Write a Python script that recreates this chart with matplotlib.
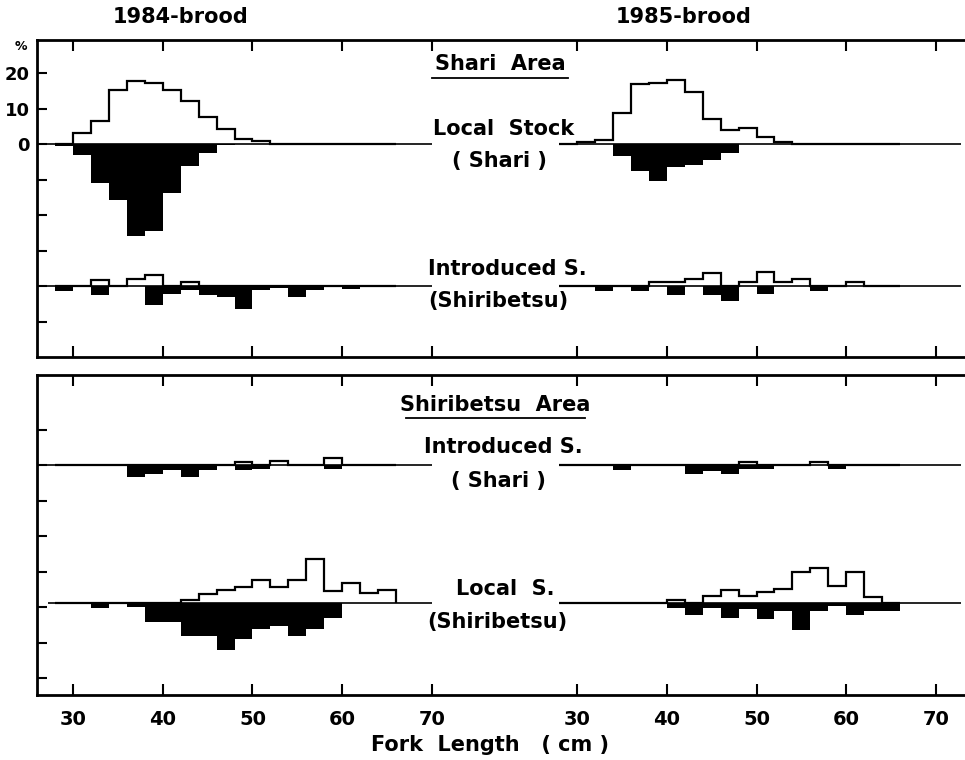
import matplotlib
matplotlib.use('Agg')
import matplotlib.pyplot as plt
from matplotlib.lines import Line2D

# ---------------- data (percent per 2-cm fork-length class) ----------------
bin_edges = [28, 30, 32, 34, 36, 38, 40, 42, 44, 46, 48, 50, 52, 54, 56, 58, 60, 62, 64, 66]

# Shari Area - Local Stock (Shari)
shari_local_84_open = [0, 3.1, 6.6, 15.1, 17.7, 17.2, 15.1, 12.1, 7.7, 4.2, 1.4, 0.9, 0, 0, 0, 0, 0, 0, 0]
shari_local_84_fill = [0.7, 3.0, 11.0, 15.8, 25.8, 24.5, 13.9, 6.3, 2.4, 0.3, 0, 0, 0, 0, 0, 0, 0, 0, 0]
shari_local_85_open = [0, 0.7, 1.1, 8.7, 16.8, 17.3, 17.9, 14.6, 7.1, 4.0, 4.5, 2.1, 0.6, 0, 0, 0, 0, 0, 0]
shari_local_85_fill = [0, 0, 0, 3.5, 7.5, 10.4, 6.4, 5.8, 4.5, 2.4, 0, 0, 0, 0, 0, 0, 0, 0, 0]
# Shari Area - Introduced S. (Shiribetsu)
shari_intro_84_open = [0, 0, 1.7, 0, 1.9, 3.0, 0, 1.0, 0, 0, 0, 0, 0, 0, 0, 0, 0, 0, 0]
shari_intro_84_fill = [1.4, 0, 2.4, 0, 0, 5.4, 2.2, 1.0, 2.4, 3.0, 6.4, 1.0, 0.6, 3.1, 1.0, 0, 0.9, 0, 0]
shari_intro_85_open = [0, 0, 0, 0, 0, 1.0, 1.0, 1.9, 3.8, 0, 1.0, 4.0, 1.1, 2.1, 0, 0, 1.0, 0, 0]
shari_intro_85_fill = [0, 0, 1.4, 0, 1.4, 0, 2.4, 0, 2.4, 4.3, 0, 2.2, 0, 0, 1.4, 0, 0, 0, 0]
# Shiribetsu Area - Introduced S. (Shari)
shiri_intro_84_open = [0, 0, 0, 0, 0, 0, 0, 0, 0, 0, 0.8, 0, 1.0, 0, 0, 1.9, 0, 0, 0]
shiri_intro_84_fill = [0, 0, 0, 0, 3.3, 2.4, 1.4, 3.3, 1.4, 0.4, 1.4, 1.2, 0, 0, 0, 1.0, 0, 0, 0]
shiri_intro_85_open = [0, 0, 0, 0, 0, 0, 0, 0, 0, 0, 0.8, 0, 0, 0, 0.8, 0, 0, 0, 0]
shiri_intro_85_fill = [0, 0, 0, 1.4, 0, 0, 0, 2.4, 1.7, 2.4, 1.1, 1.1, 0, 0, 0, 1.1, 0, 0, 0]
# Shiribetsu Area - Local S. (Shiribetsu)
shiri_local_84_open = [0, 0, 0, 0, 0, 0, 0, 0.9, 2.8, 3.7, 4.7, 6.7, 4.7, 6.7, 12.6, 3.6, 5.8, 3.0, 3.9]
shiri_local_84_fill = [0, 0, 1.2, 0, 1.0, 5.2, 5.2, 9.2, 9.2, 13.2, 10.1, 7.1, 6.4, 9.2, 7.1, 4.0, 0, 0, 0]
shiri_local_85_open = [0, 0, 0, 0, 0, 0, 1.0, 0, 2.0, 3.8, 2.1, 3.1, 4.0, 9.0, 9.9, 5.0, 9.0, 1.9, 0]
shiri_local_85_fill = [0, 0, 0, 0, 0, 0, 1.3, 3.2, 1.3, 4.1, 1.6, 4.4, 2.1, 7.5, 2.1, 0.7, 3.2, 2.2, 2.2]

x_ticks = [30, 40, 50, 60, 70]
x_tick_labels = ['30', '40', '50', '60', '70']
top_y_ticks = [20, 10, 0, -10, -20, -30, -40, -50]
top_y_labels = ['20', '10', '0', '', '', '', '', '']
bot_y_ticks = [10, 0, -10, -20, -30, -40, -50, -60]

# ---------------- layout (pixels) ----------------
W, H = 965, 760
fig = plt.figure(figsize=(W / 100, H / 100), dpi=100)
FONT = 'DejaVu Sans'
plt.rcParams['font.family'] = [FONT]

S = 8.975  # px per cm
PXY = 3.55  # px per percent


def fx(px):
    return px / W


def fy(py):
    return 1 - py / H


def make_panel(top_px, bot_px, zero_px, yticks, ylabels, bottom_labels):
    ymax = (zero_px - top_px) / PXY
    ymin = -(bot_px - zero_px) / PXY
    rect = [fx(37), fy(bot_px), fx(970) - fx(37), fy(top_px) - fy(bot_px)]
    frame = fig.add_axes(rect)
    frame.set_ylim(ymin, ymax)
    frame.set_xlim(0, 1)
    frame.set_xticks([])
    frame.spines['right'].set_visible(False)
    for s in ['left', 'top', 'bottom']:
        frame.spines[s].set_linewidth(2.0)
    frame.set_yticks(yticks)
    frame.set_yticklabels(ylabels, fontsize=13, fontweight='bold')
    frame.tick_params(axis='y', direction='in', length=7, width=1.5, pad=5)
    halves = []
    for (x0, x1, c30) in [(37, 500, 73), (500, 970, 577)]:
        r = [fx(x0), fy(bot_px), fx(x1) - fx(x0), fy(top_px) - fy(bot_px)]
        ax = fig.add_axes(r, sharey=frame)
        ax.patch.set_alpha(0)
        for s in ax.spines.values():
            s.set_visible(False)
        ax.set_xlim(30 - (c30 - x0) / S, 30 + (x1 - c30) / S)
        ax.set_xticks(x_ticks)
        ax.tick_params(axis='x', direction='in', length=8, width=1.5,
                       top=True, bottom=True, labelbottom=bottom_labels, pad=11)
        if bottom_labels:
            ax.set_xticklabels(x_tick_labels, fontsize=14, fontweight='bold')
        ax.tick_params(axis='y', left=False, labelleft=False)
        halves.append(ax)
    return frame, halves


def draw_hist(ax, base, open_vals, fill_vals, xstart, xend):
    ax.hlines(base, xstart, xend, color='black', lw=1.2, zorder=2)
    ax.stairs([base - v for v in fill_vals], bin_edges, baseline=base,
              fill=True, color='black', lw=0.8, zorder=3)
    ax.stairs([base + v for v in open_vals], bin_edges, baseline=base,
              fill=False, color='black', lw=1.6, zorder=4)


# top panel: Shari Area
ftop, (tl, tr) = make_panel(40, 357, 144, top_y_ticks, top_y_labels, False)
draw_hist(tl, 0, shari_local_84_open, shari_local_84_fill, 27.0, 70)
draw_hist(tr, 0, shari_local_85_open, shari_local_85_fill, 29.1, 72.8)
draw_hist(tl, -40, shari_intro_84_open, shari_intro_84_fill, 27.1, 70)
draw_hist(tr, -40, shari_intro_85_open, shari_intro_85_fill, 28.9, 72.8)

# bottom panel: Shiribetsu Area
fbot, (bl, br) = make_panel(375, 695, 465, bot_y_ticks, [''] * len(bot_y_ticks), True)
draw_hist(bl, 0, shiri_intro_84_open, shiri_intro_84_fill, 27.1, 70)
draw_hist(br, 0, shiri_intro_85_open, shiri_intro_85_fill, 29.0, 72.8)
draw_hist(bl, -39, shiri_local_84_open, shiri_local_84_fill, 27.2, 70)
draw_hist(br, -39, shiri_local_85_open, shiri_local_85_fill, 29.0, 72.8)

# ---------------- texts ----------------
def t(px, py, s, size=15, **kw):
    fig.text(fx(px), fy(py), s, fontsize=size, fontweight='bold',
             ha=kw.pop('ha', 'center'), va=kw.pop('va', 'center'), **kw)


t(181, 17, '1984-brood')
t(684, 17, '1985-brood')
t(21, 46, '%', size=9)

t(500, 64, 'Shari  Area')
fig.add_artist(Line2D([fx(432), fx(568)], [fy(78), fy(78)], color='black', lw=1.3))
t(504, 129, 'Local  Stock')
t(499, 161, '( Shari )')
t(507, 269, 'Introduced S.')
t(498, 301, '(Shiribetsu)')

t(495, 405, 'Shiribetsu  Area')
fig.add_artist(Line2D([fx(406), fx(585)], [fy(418), fy(418)], color='black', lw=1.3))
t(503, 447, 'Introduced S.')
t(498, 481, '( Shari )')
t(505, 589, 'Local  S.')
t(497, 622, '(Shiribetsu)')

t(490, 745, 'Fork  Length   ( cm )')

fig.savefig('out.png', dpi=100)
